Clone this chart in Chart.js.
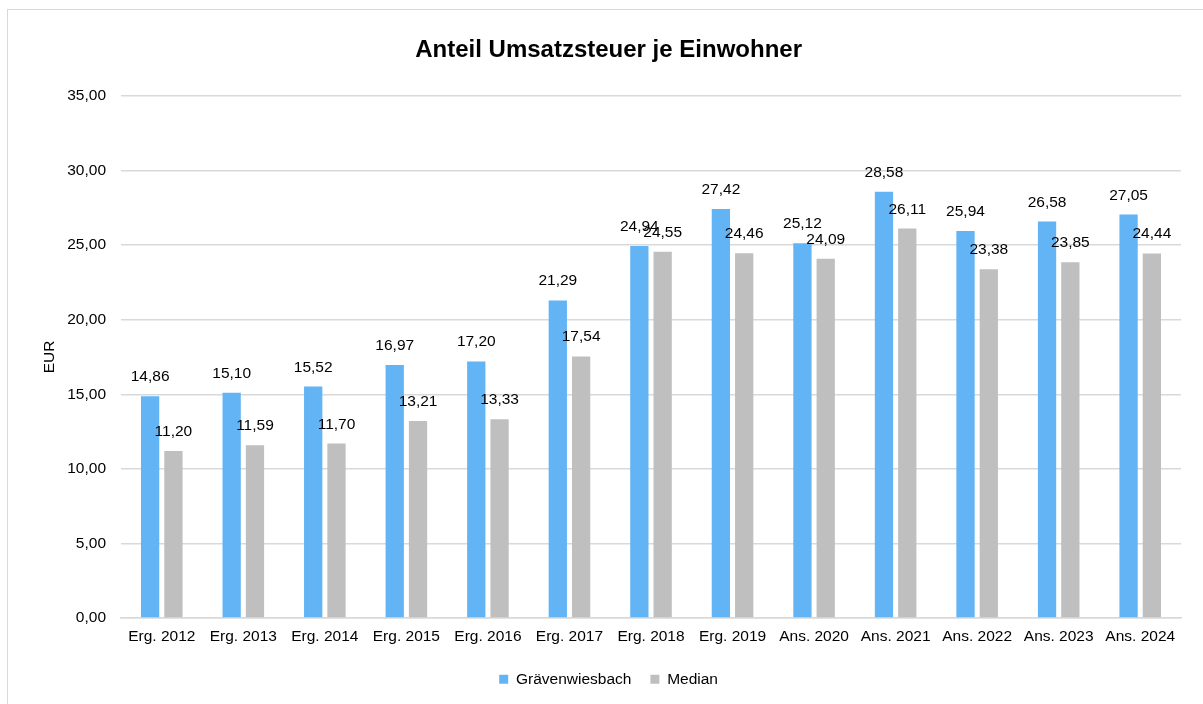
<!DOCTYPE html>
<html>
<head>
<meta charset="utf-8">
<script src="https://cdn.jsdelivr.net/npm/chart.js@4.4.1/dist/chart.umd.min.js"></script>
<style>
  html, body { margin: 0; padding: 0; width: 1203px; height: 704px; overflow: hidden; background: #fff; }
  #frame { position: absolute; left: 7px; top: 9px; width: 1230px; height: 730px; border: 1.5px solid #d9d9d9; box-sizing: border-box; }
  #wrap { position: absolute; left: 8px; top: 10px; width: 1203px; height: 687px; }
</style>
</head>
<body>
<div id="frame"></div>
<div id="wrap"><canvas id="c" width="1203" height="687"></canvas></div>
<script>
const categories = ["Erg. 2012","Erg. 2013","Erg. 2014","Erg. 2015","Erg. 2016","Erg. 2017","Erg. 2018","Erg. 2019","Ans. 2020","Ans. 2021","Ans. 2022","Ans. 2023","Ans. 2024"];
const graevenwiesbach = [14.86,15.10,15.52,16.97,17.20,21.29,24.94,27.42,25.12,28.58,25.94,26.58,27.05];
const median = [11.20,11.59,11.70,13.21,13.33,17.54,24.55,24.46,24.09,26.11,23.38,23.85,24.44];
const seriesNames = ["Grävenwiesbach","Median"];
const titleText = "Anteil Umsatzsteuer je Einwohner";
const yTitle = "EUR";

const FONT = "'Liberation Sans', Arial, sans-serif";
const fmt = v => v.toFixed(2).replace('.', ',');

const labelPlugin = {
  id: 'valueLabels',
  afterDatasetsDraw(chart) {
    const ctx = chart.ctx;
    ctx.save();
    ctx.font = "15.5px " + FONT;
    ctx.fillStyle = "#000";
    ctx.textAlign = "center";
    ctx.textBaseline = "alphabetic";
    chart.data.datasets.forEach((ds, di) => {
      const meta = chart.getDatasetMeta(di);
      meta.data.forEach((bar, i) => {
        ctx.fillText(fmt(ds.data[i]), bar.x, bar.y - 15);
      });
    });
    ctx.restore();
  }
};

new Chart(document.getElementById('c'), {
  type: 'bar',
  data: {
    labels: categories,
    datasets: [
      { label: seriesNames[0], data: graevenwiesbach, backgroundColor: '#62b4f4', categoryPercentage: 0.5715, barPercentage: 0.785 },
      { label: seriesNames[1], data: median, backgroundColor: '#bfbfbf', categoryPercentage: 0.5715, barPercentage: 0.785 }
    ]
  },
  options: {
    responsive: false,
    animation: false,
    devicePixelRatio: 1,
    layout: { padding: { left: 28.2, right: 30, top: 0, bottom: 0 } },
    plugins: {
      title: {
        display: true,
        text: titleText,
        color: '#000',
        font: { family: FONT, size: 24, weight: 'bold' },
        padding: { top: 25.6, bottom: 31.6 }
      },
      legend: {
        position: 'bottom',
        labels: {
          boxWidth: 9, boxHeight: 9, padding: 19,
          color: '#000',
          font: { family: FONT, size: 15.5 }
        }
      },
      tooltip: { enabled: false }
    },
    scales: {
      x: {
        grid: { display: false, drawTicks: false },
        border: { display: true, color: '#d9d9d9', width: 1.5 },
        ticks: { color: '#000', font: { family: FONT, size: 15.5 }, padding: 9, maxRotation: 0, autoSkip: false },
        afterFit(scale) { scale.height = 34.5; }
      },
      y: {
        min: 0, max: 35,
        ticks: { stepSize: 5, color: '#000', font: { family: FONT, size: 15.5 }, padding: 15,
                 callback: v => fmt(v) },
        grid: { color: '#d9d9d9', lineWidth: 1.5, drawTicks: false },
        border: { display: false },
        title: { display: true, text: yTitle, color: '#000', font: { family: FONT, size: 15.5 } },
        afterFit(scale) { scale.width = 84.8; }
      }
    }
  },
  plugins: [labelPlugin]
});
</script>
</body>
</html>
